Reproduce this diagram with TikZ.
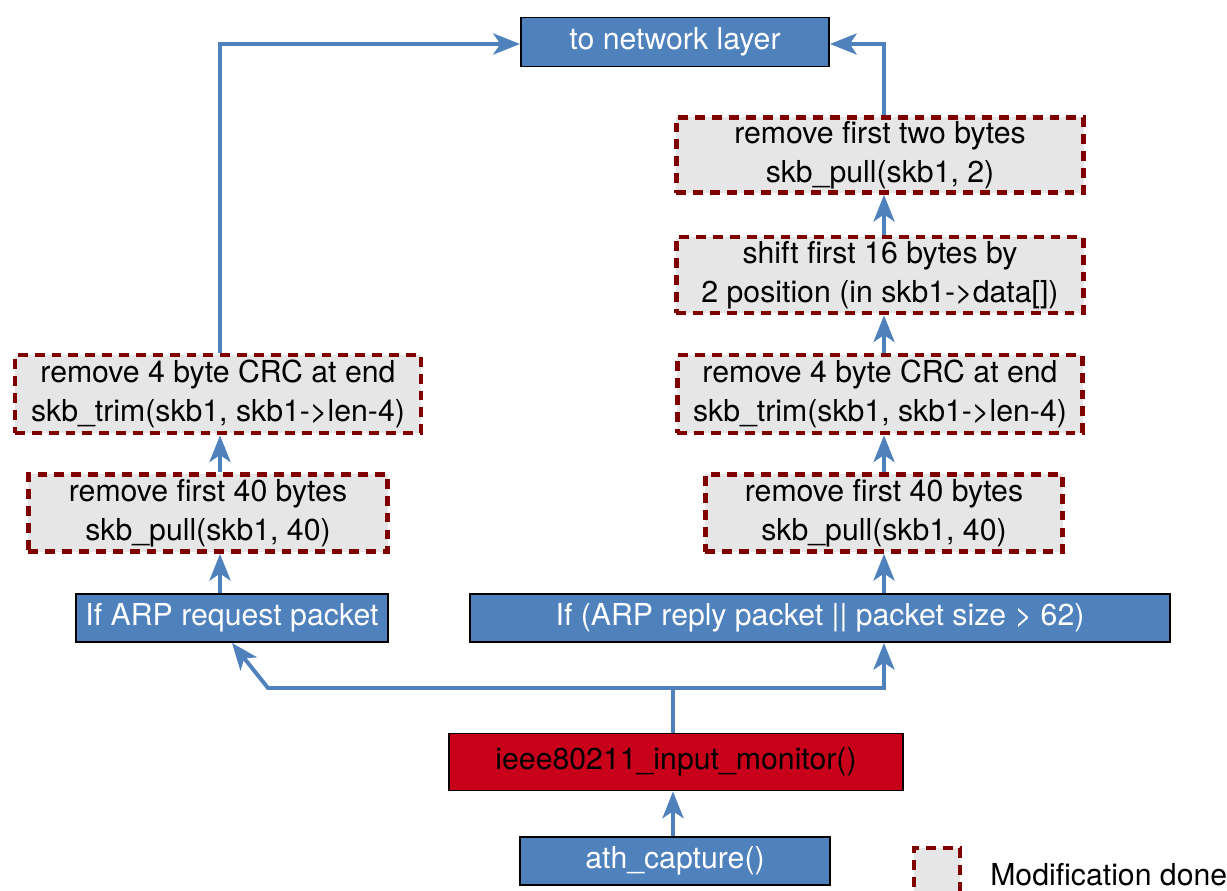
\documentclass[tikz,border=0pt]{standalone}
\usepackage{fontspec}
\setmainfont{TeX Gyre Heros}
\usepackage{tikz}
\usetikzlibrary{arrows.meta,positioning,calc}
\definecolor{officeBlue}{RGB}{79,129,189}
\definecolor{hookRed}{RGB}{200,0,26}
\definecolor{modBorder}{RGB}{128,0,0}
\definecolor{modFill}{RGB}{230,230,230}

\begin{document}
\begin{tikzpicture}[x=0.025cm, y=-0.025cm,
    every node/.style={font=\fontsize{21.5}{27.5}\selectfont, inner sep=0pt, align=center},
    blockbox/.style={draw=black, line width=1.4pt, fill=officeBlue, text=white},
    hookbox/.style={draw=black, line width=1.4pt, fill=hookRed, text=black},
    modbox/.style={draw=modBorder, line width=3.3pt, dash pattern=on 7pt off 5pt,
                   fill=modFill, text=black},
    flow/.style={draw=officeBlue, line width=2.8pt,
                 -{Stealth[length=19pt, width=15pt, inset=5pt]}}]
  \useasboundingbox (0,0) rectangle (1227,891);

  % top target
  \node[blockbox, minimum width=7.7cm, minimum height=1.225cm] (net) at (675,42) {to network layer};

  % right branch
  \node[modbox, minimum width=10.175cm, minimum height=1.875cm] (rtwo) at (880,155)
    {remove first two bytes\\skb\_pull(skb1, 2)};
  \node[modbox, minimum width=10.175cm, minimum height=1.9cm] (rshift) at (880,275)
    {shift first 16 bytes by\\2 position (in skb1->data[])};
  \node[modbox, minimum width=10.125cm, minimum height=1.95cm] (rcrc) at (880,394)
    {remove 4 byte CRC at end\\skb\_trim(skb1, skb1->len-4)};
  \node[modbox, minimum width=8.925cm, minimum height=1.925cm] (rpull) at (884,513)
    {remove first 40 bytes\\skb\_pull(skb1, 40)};
  \node[blockbox, minimum width=17.5cm, minimum height=1.2cm] (reply) at (820,618)
    {If (ARP reply packet || packet size > 62)};

  % left branch
  \node[modbox, minimum width=10.15cm, minimum height=1.95cm] (lcrc) at (218,394)
    {remove 4 byte CRC at end\\skb\_trim(skb1, skb1->len-4)};
  \node[modbox, minimum width=8.975cm, minimum height=1.925cm] (lpull) at (208,513)
    {remove first 40 bytes\\skb\_pull(skb1, 40)};
  \node[blockbox, minimum width=7.775cm, minimum height=1.2cm] (request) at (232,618)
    {If ARP request packet};

  % capture path
  \node[hookbox, minimum width=11.35cm, minimum height=1.425cm] (monitor) at (676,762)
    {ieee80211\_input\_monitor()};
  \node[blockbox, minimum width=7.75cm, minimum height=1.2cm] (capture) at (675,861)
    {ath\_capture()};

  % legend
  \node[modbox, minimum width=1.15cm, minimum height=1.2cm] (legend) at (937,872) {};
  \node[anchor=west] (legendtext) at (990,875) {Modification done};

  % connectors
  \coordinate (split) at (673,688);
  \coordinate (bend) at (268,688);
  \draw[flow] (capture.north -| split) -- (monitor.south -| split);
  \draw[flow, -] (monitor.north -| split) -- (split);
  \draw[flow] (split) -- (bend) -- (request.south);
  \draw[flow] (split) -| (reply.south -| rpull);
  \draw[flow] (reply.north -| rpull) -- (rpull.south);
  \draw[flow] (rpull.north) -- (rcrc.south -| rpull);
  \draw[flow] (rcrc.north -| rpull) -- (rshift.south -| rpull);
  \draw[flow] (rshift.north -| rpull) -- (rtwo.south -| rpull);
  \draw[flow] (rtwo.north -| rpull) |- ([yshift=-0.05cm]net.east);
  \draw[flow] (request.north -| 220,0) -- (lpull.south -| 220,0);
  \draw[flow] (lpull.north -| 220,0) -- (lcrc.south -| 220,0);
  \draw[flow] (lcrc.north -| 220,0) |- ([yshift=-0.05cm]net.west);
\end{tikzpicture}
\end{document}
